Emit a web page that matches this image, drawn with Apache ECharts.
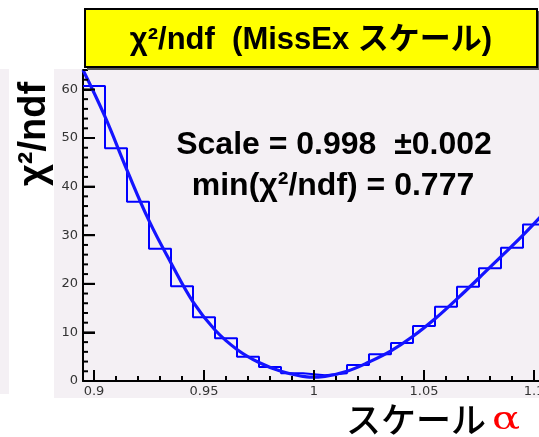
<!DOCTYPE html>
<html>
<head>
<meta charset="utf-8">
<script src="https://cdn.jsdelivr.net/npm/echarts@6/dist/echarts.min.js"></script>
<style>
  html, body { margin: 0; padding: 0; background: #ffffff; }
  #chart { width: 539px; height: 437px; }
</style>
</head>
<body>
<div id="chart"></div>
<script>
// χ²/ndf scan versus the MissEx scale factor α
const binCenters = [0.90, 0.91, 0.92, 0.93, 0.94, 0.95, 0.96, 0.97, 0.98, 0.99, 1.00,
                    1.01, 1.02, 1.03, 1.04, 1.05, 1.06, 1.07, 1.08, 1.09, 1.10];
const chi2Hist   = [60.7, 47.9, 36.9, 27.2, 19.5, 13.1, 8.8, 5.0, 2.9, 1.6, 1.2,
                    1.6, 3.3, 5.5, 7.8, 11.3, 15.3, 19.4, 23.2, 27.4, 32.2];
const binWidth = 0.01;

// fitted curve, sampled along α
const fitAlpha = [0.895, 0.905, 0.915, 0.925, 0.935, 0.945, 0.955, 0.965, 0.975, 0.985, 0.995, 0.998,
                  1.005, 1.015, 1.025, 1.035, 1.045, 1.055, 1.065, 1.075, 1.085, 1.095, 1.105];
const fitChi2  = [64.0, 54.4, 43.4, 33.0, 24.3, 16.3, 10.5, 6.5, 3.8, 2.0, 0.95, 0.777,
                  0.95, 2.0, 3.9, 6.2, 9.2, 12.8, 16.9, 21.2, 25.6, 30.0, 34.8];

const xTickLabels = [0.9, 0.95, 1, 1.05, 1.1];
const yTickLabels = [0, 10, 20, 30, 40, 50, 60];

const xMin = 0.895, xMax = 1.105;
const yMin = 0, yMax = 64;

// histogram outline: each bin becomes a flat top from its low edge to its high edge
const histOutline = [];
binCenters.forEach((c, i) => {
  histOutline.push([c - binWidth / 2, chi2Hist[i]]);
  histOutline.push([c + binWidth / 2, chi2Hist[i]]);
});

const fitLine = fitAlpha.map((a, i) => [a, fitChi2[i]]);

// inward tick marks drawn as thin bar symbols sitting on the axes
const MAJOR = 11, MINOR = 5, TICK_W = 2;
const xTickMarks = [];
for (let k = 90; k <= 110; k++) {
  const v = k / 100;
  const len = xTickLabels.some(t => Math.abs(t - v) < 1e-9) ? MAJOR : MINOR;
  xTickMarks.push({ value: [v, yMin], symbolSize: [TICK_W, len], symbolOffset: [0, -len / 2] });
}
const yTickMarks = [];
for (let k = 0; k <= 64; k += 2) {
  const len = yTickLabels.indexOf(k) >= 0 ? MAJOR + 1 : MINOR;
  yTickMarks.push({ value: [xMin, k], symbolSize: [len, TICK_W], symbolOffset: [len / 2, 0] });
}

const tickFont = { color: '#333333', fontFamily: 'DejaVu Sans', fontSize: 13 };
const boldFont = '"Liberation Sans", Arial, "Noto Sans CJK JP", sans-serif';
const padColor = '#f4f0f4';

const chart = echarts.init(document.getElementById('chart'), null, { renderer: 'canvas' });

chart.setOption({
  animation: false,
  backgroundColor: padColor,
  grid: {
    left: 83, right: -6, top: 70, bottom: 56,
    outerBoundsMode: 'none'
  },
  xAxis: {
    type: 'value', min: xMin, max: xMax, position: 'bottom',
    axisLine: { show: true, onZero: false, lineStyle: { color: '#000000', width: 2 } },
    axisTick: { show: true, inside: true, length: MAJOR, customValues: xTickLabels,
                lineStyle: { color: '#000000', width: TICK_W } },
    axisLabel: Object.assign({ customValues: xTickLabels, margin: 4,
                               formatter: v => String(+v.toFixed(2)) }, tickFont),
    splitLine: { show: false }
  },
  yAxis: {
    type: 'value', min: yMin, max: yMax, position: 'left',
    axisLine: { show: true, onZero: false, lineStyle: { color: '#000000', width: 2 } },
    axisTick: { show: true, inside: true, length: MAJOR + 1, customValues: yTickLabels,
                lineStyle: { color: '#000000', width: TICK_W } },
    axisLabel: Object.assign({ customValues: yTickLabels, margin: 5 }, tickFont),
    splitLine: { show: false }
  },
  series: [
    {
      name: 'xTicks', type: 'scatter', data: xTickMarks, symbol: 'rect', clip: false,
      itemStyle: { color: '#000000', opacity: 1 }, silent: true, z: 5
    },
    {
      name: 'yTicks', type: 'scatter', data: yTickMarks, symbol: 'rect', clip: false,
      itemStyle: { color: '#000000', opacity: 1 }, silent: true, z: 5
    },
    {
      name: 'hist', type: 'line', data: histOutline,
      symbol: 'none', lineStyle: { color: '#0000ff', width: 2 }, z: 3
    },
    {
      name: 'fit', type: 'line', data: fitLine, smooth: 0.4,
      symbol: 'none', lineStyle: { color: '#1414ff', width: 3.2 }, z: 4
    }
  ],
  graphic: [
    // white margins around the pads
    { type: 'rect', shape: { x: 0, y: 0, width: 539, height: 69 }, style: { fill: '#ffffff' } },
    { type: 'rect', shape: { x: 9, y: 69, width: 45, height: 329 }, style: { fill: '#ffffff' } },
    { type: 'rect', shape: { x: 0, y: 394, width: 9, height: 4 }, style: { fill: '#ffffff' } },
    { type: 'rect', shape: { x: 0, y: 398, width: 539, height: 39 }, style: { fill: '#ffffff' } },
    // title box with its shadow
    { type: 'rect', z: 10, shape: { x: 87, y: 11, width: 452, height: 59 }, style: { fill: '#555555' } },
    { type: 'rect', z: 11, shape: { x: 85, y: 9, width: 452, height: 58 },
      style: { fill: '#ffff00', stroke: '#000000', lineWidth: 2 } },
    { type: 'text', z: 12, x: 311, y: 40,
      style: { text: 'χ²/ndf  (MissEx スケール)', font: 'bold 31px ' + boldFont,
               fill: '#000000', align: 'center', verticalAlign: 'middle' } },
    { type: 'text', z: 12, x: 334, y: 145,
      style: { text: 'Scale = 0.998  ±0.002', font: 'bold 32px ' + boldFont,
               fill: '#000000', align: 'center', verticalAlign: 'middle' } },
    { type: 'text', z: 12, x: 333, y: 186,
      style: { text: 'min(χ²/ndf) = 0.777', font: 'bold 32px ' + boldFont,
               fill: '#000000', align: 'center', verticalAlign: 'middle' } },
    { type: 'text', z: 12, x: 35, y: 134, rotation: Math.PI / 2,
      style: { text: 'χ²/ndf', font: 'bold 38px ' + boldFont,
               fill: '#000000', align: 'center', verticalAlign: 'middle' } },
    { type: 'text', z: 12, x: 486, y: 420,
      style: { text: 'スケール', font: '500 35px "Noto Sans CJK JP"',
               fill: '#000000', align: 'right', verticalAlign: 'middle' } },
    { type: 'text', z: 12, x: 520, y: 421, scaleX: 1.3,
      style: { text: 'α', font: '32px "DejaVu Serif"',
               fill: '#ff0000', align: 'right', verticalAlign: 'middle' } }
  ]
});
</script>
</body>
</html>
